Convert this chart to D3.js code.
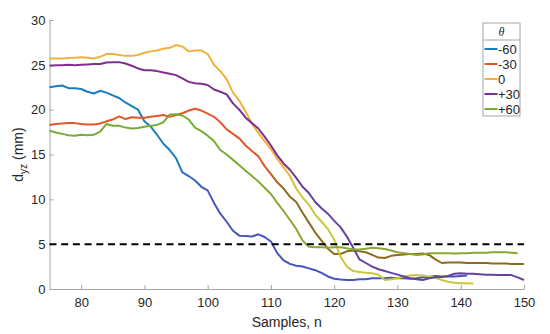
<!DOCTYPE html>
<html>
<head>
  <meta charset="utf-8">
  <title>d_yz vs samples</title>
  <script src="https://d3js.org/d3.v7.min.js"></script>
  <style>
    body { margin: 0; background: #fff; }
    text { font-family: "Liberation Sans", Arial, sans-serif; }
  </style>
</head>
<body>

<div id="chart"></div>

<script>
// Sample index of the first value in every series
const firstSample = 75;

// Series labels (theta) and values in mm, one per sample from n = 75
const thetaLabels = ["-60", "-30", "0", "+30", "+60"];

const dMinus60 = [22.5, 22.6, 22.7, 22.4, 22.4, 22.3, 22.0, 21.8, 22.1, 21.9,
  21.6, 21.3, 20.8, 20.4, 20.0, 18.7, 18.1, 17.2, 16.2, 15.5,
  14.6, 13.0, 12.6, 12.1, 11.4, 11.0, 9.6, 8.4, 7.5, 6.5,
  5.95, 5.9, 5.85, 6.1, 5.8, 5.3, 4.0, 3.2, 2.8, 2.6,
  2.5, 2.3, 2.1, 1.8, 1.4, 1.15, 1.05, 1.0, 1.0, 1.1,
  1.1, 1.2, 1.2, 1.2, 1.25, 1.2, 1.2, 1.15, 1.2, 1.3,
  1.35, 1.45, 1.4, 1.4, 1.4, 1.45, 1.5];

const dMinus30 = [18.3, 18.4, 18.45, 18.5, 18.5, 18.4, 18.35, 18.35, 18.45, 18.7,
  18.9, 19.25, 18.95, 19.15, 19.1, 19.1, 19.2, 19.3, 19.4, 19.2,
  19.4, 19.6, 19.9, 20.1, 19.9, 19.55, 19.2, 18.6, 17.8, 17.3,
  16.8, 16.0, 15.4, 14.8, 13.7, 12.8, 11.9, 11.2, 10.3, 9.7,
  8.5, 7.4, 6.3, 5.4, 4.5, 3.9, 3.9, 4.2, 4.3, 4.2,
  4.1, 3.8, 3.5, 3.45, 3.7, 3.8, 3.85, 3.9, 3.9, 3.95,
  3.8, 3.3, 2.9, 2.95, 2.95, 2.95, 2.9, 2.9, 2.9, 2.9,
  2.85, 2.85, 2.85, 2.8, 2.8, 2.8];

const dZero = [25.7, 25.7, 25.7, 25.75, 25.8, 25.85, 25.8, 25.7, 25.9, 26.2,
  26.2, 26.1, 26.0, 26.0, 26.1, 26.35, 26.5, 26.6, 26.8, 26.9,
  27.2, 27.05, 26.5, 26.6, 26.6, 26.2, 25.0, 24.3, 23.4, 21.9,
  21.0, 19.8, 18.4, 17.4, 16.5, 15.6, 14.5, 13.6, 12.6, 11.2,
  10.2, 9.4, 8.3, 7.5, 6.7, 5.5, 3.6, 2.5, 2.0, 1.9,
  1.8, 1.75, 1.6, 1.0, 1.1, 1.2, 1.4, 1.5, 1.55, 1.5,
  1.4, 1.25, 1.0, 0.8, 0.7, 0.65, 0.65, 0.6];

const dPlus30 = [24.9, 24.95, 24.95, 25.0, 24.95, 25.0, 25.05, 25.1, 25.1, 25.25,
  25.3, 25.3, 25.15, 24.9, 24.6, 24.4, 24.4, 24.3, 24.15, 24.0,
  23.85, 23.5, 23.1, 22.95, 22.9, 22.75, 22.25, 22.0, 21.7, 20.7,
  20.0, 19.1, 18.5, 17.9, 17.0, 16.0, 14.9, 14.0, 13.3, 12.4,
  11.4, 10.7, 9.7, 9.0, 8.4, 7.6, 6.9, 5.85, 4.6, 3.3,
  2.9, 2.5, 2.2, 2.0, 1.8, 1.6, 1.4, 1.2, 1.1, 1.0,
  1.2, 1.3, 1.35, 1.45, 1.7, 1.75, 1.7, 1.7, 1.65, 1.6,
  1.6, 1.55, 1.55, 1.55, 1.3, 1.0];

const dPlus60 = [17.65, 17.45, 17.3, 17.15, 17.1, 17.2, 17.15, 17.2, 17.55, 18.4,
  18.2, 18.2, 18.0, 17.9, 17.95, 18.1, 18.2, 18.3, 18.6, 19.45,
  19.5, 19.35, 18.9, 18.0, 17.6, 17.1, 16.5, 15.5, 15.0, 14.4,
  13.8, 13.2, 12.6, 12.0, 11.3, 10.6, 9.6, 8.7, 7.7, 6.7,
  5.4, 4.7, 4.65, 4.65, 4.6, 4.65, 4.65, 4.55, 4.4, 4.4,
  4.5, 4.6, 4.55, 4.45, 4.3, 4.1, 4.0, 3.9, 3.8, 3.85,
  4.0, 4.0, 4.0, 4.0, 3.95, 4.0, 4.0, 4.05, 4.05, 4.05,
  4.1, 4.1, 4.1, 4.05, 4.0];

const threshold = 5;

const xTicks = [80, 90, 100, 110, 120, 130, 140, 150];
const yTicks = [0, 5, 10, 15, 20, 25, 30];

// upper colour of each line, and the shifted colour it fades to lower down
const topColors = ["#1b7dc0", "#e2562a", "#f0b23a", "#7e2f8e", "#77ad35"];
const lowColors = ["#4654c0", "#8e6a20", "#c9c935", "#6642a0", "#8aa633"];

const seriesValues = [dMinus60, dMinus30, dZero, dPlus30, dPlus60];

const width = 550, height = 334;
const margin = { left: 49.5, right: 26, top: 20, bottom: 45 };

const svg = d3.select("#chart").append("svg")
  .attr("width", width)
  .attr("height", height);

const x = d3.scaleLinear().domain([75, 150]).range([margin.left, width - margin.right]);
const y = d3.scaleLinear().domain([0, 30]).range([height - margin.bottom, margin.top]);

// gradients for the colour shift
const defs = svg.append("defs");
thetaLabels.forEach((lab, i) => {
  const g = defs.append("linearGradient")
    .attr("id", "grad" + i)
    .attr("gradientUnits", "userSpaceOnUse")
    .attr("x1", 0).attr("x2", 0)
    .attr("y1", y(14)).attr("y2", y(10.5));
  g.append("stop").attr("offset", 0).attr("stop-color", topColors[i]);
  g.append("stop").attr("offset", 1).attr("stop-color", lowColors[i]);
});

// axes
const xAxis = svg.append("g")
  .attr("transform", `translate(0,${y(0)})`)
  .call(d3.axisBottom(x).tickValues(xTicks).tickSizeInner(-4).tickSizeOuter(0).tickPadding(9));
const yAxis = svg.append("g")
  .attr("transform", `translate(${x(75)},0)`)
  .call(d3.axisLeft(y).tickValues(yTicks).tickSizeInner(-4).tickSizeOuter(0).tickPadding(4));

[xAxis, yAxis].forEach(a => {
  a.select(".domain").attr("stroke", "#a6a6a6");
  a.selectAll(".tick line").attr("stroke", "#a6a6a6");
  a.selectAll(".tick text")
    .attr("fill", "#262626")
    .style("font-size", "13px")
    .style("font-family", "'Liberation Sans', Arial, sans-serif");
});

// axis labels
svg.append("text")
  .attr("x", (x(75) + x(150)) / 2)
  .attr("y", 327)
  .attr("text-anchor", "middle")
  .attr("fill", "#262626")
  .style("font-size", "14px")
  .text("Samples, n");

const yl = svg.append("text")
  .attr("transform", `translate(23,${(y(0) + y(30)) / 2}) rotate(-90)`)
  .attr("text-anchor", "middle")
  .attr("fill", "#262626")
  .style("font-size", "14px");
yl.append("tspan").text("d");
yl.append("tspan").attr("dy", 4).style("font-size", "10px").text("yz");
yl.append("tspan").attr("dy", -4).text(" (mm)");

// lines
const line = d3.line()
  .x((d, i) => x(firstSample + i))
  .y(d => y(d));

seriesValues.forEach((vals, i) => {
  svg.append("path")
    .datum(vals)
    .attr("fill", "none")
    .attr("stroke", `url(#grad${i})`)
    .attr("stroke-width", 2)
    .attr("stroke-linejoin", "round")
    .attr("d", line);
});

// threshold line
svg.append("line")
  .attr("x1", x(75)).attr("x2", x(150))
  .attr("y1", y(threshold)).attr("y2", y(threshold))
  .attr("stroke", "#000")
  .attr("stroke-width", 2)
  .attr("stroke-dasharray", "7,4.7");

// legend
const lg = svg.append("g").attr("transform", "translate(483,23)");
lg.append("rect")
  .attr("width", 37).attr("height", 93)
  .attr("fill", "#fff")
  .attr("stroke", "#a6a6a6");
lg.append("line")
  .attr("x1", 0).attr("x2", 37)
  .attr("y1", 17).attr("y2", 17)
  .attr("stroke", "#a6a6a6");
lg.append("text")
  .attr("x", 18.5).attr("y", 13)
  .attr("text-anchor", "middle")
  .attr("fill", "#262626")
  .style("font-size", "12px")
  .style("font-style", "italic")
  .style("font-family", "'Liberation Serif', serif")
  .text("θ");

thetaLabels.forEach((lab, i) => {
  const cy = 26 + i * 15;
  lg.append("line")
    .attr("x1", 1.5).attr("x2", 14.5)
    .attr("y1", cy).attr("y2", cy)
    .attr("stroke", topColors[i])
    .attr("stroke-width", 2);
  lg.append("text")
    .attr("x", 15).attr("y", cy + 4.5)
    .attr("fill", "#262626")
    .style("font-size", "13px")
    .text(lab);
});
</script>

</body>
</html>
